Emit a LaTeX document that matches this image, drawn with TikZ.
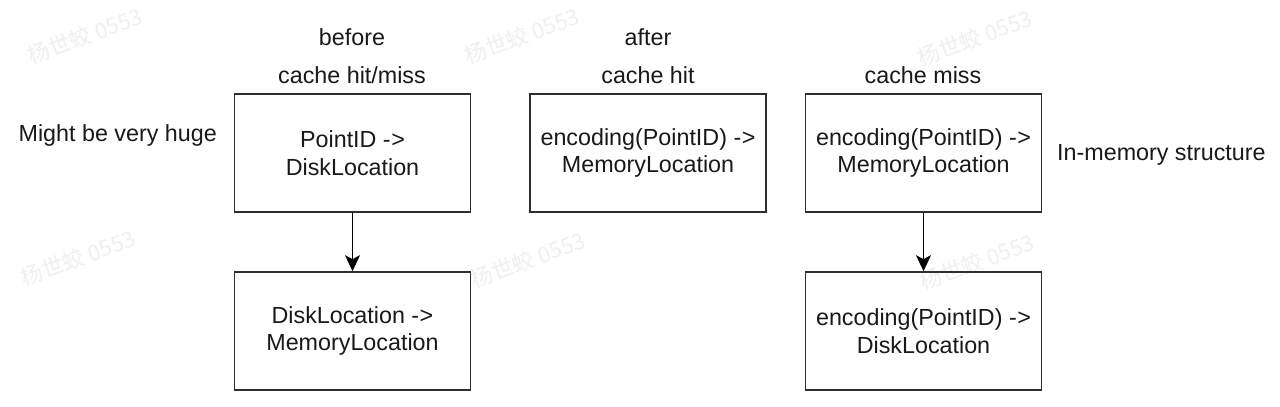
\documentclass[tikz,border=0pt]{standalone}
\usepackage{fontspec}
\setmainfont{Liberation Sans}
\newfontfamily\cjkwm{Noto Sans CJK SC}
\usetikzlibrary{arrows.meta}
\begin{document}
\begin{tikzpicture}[x=1pt,y=-1pt,
  every node/.style={font=\fontsize{23.3}{27.5}\selectfont, text=black!90, inner sep=0pt},
  mapbox/.style={draw=black!82, line width=1.6pt, minimum width=236pt, minimum height=118pt, align=center},
  lbl/.style={align=center},
  wm/.style={font=\cjkwm\fontsize{22}{26}\selectfont, text=black!6, rotate=20},
  link/.style={line width=1.8pt, draw=black, -{Stealth[length=16pt,width=15pt,inset=4pt]}}
]
\useasboundingbox[fill=white] (0,0) rectangle (1280,407);
% watermarks
\node[wm] (w1) at (85,36) {杨世蛟 0553};
\node[wm] (w2) at (522,36) {杨世蛟 0553};
\node[wm] (w3) at (975,38) {杨世蛟 0553};
\node[wm] (w4) at (78,258) {杨世蛟 0553};
\node[wm] (w5) at (528,260) {杨世蛟 0553};
\node[wm] (w6) at (977,262) {杨世蛟 0553};
% labels
\node[lbl] (before) at (352,37) {before};
\node[lbl] (hm) at (352,75) {cache hit/miss};
\node[lbl] (after) at (648,37) {after};
\node[lbl] (hit) at (648,75) {cache hit};
\node[lbl] (miss) at (923,75) {cache miss};
\node[anchor=east] (huge) at (217,135) {Might be very huge};
\node[anchor=west] (inmem) at (1057,155) {In-memory structure};
% boxes
\node[mapbox] (a1) at (352.5,153) {PointID -\kern0.5pt>\\DiskLocation};
\node[mapbox] (a2) at (352.5,331) {DiskLocation -\kern0.5pt>\\MemoryLocation};
\node[mapbox] (b1) at (648,153) {encoding(PointID) -\kern0.5pt>\\MemoryLocation};
\node[mapbox] (c1) at (923.5,153) {encoding(PointID) -\kern0.5pt>\\MemoryLocation};
\node[mapbox] (c2) at (923.5,331) {encoding(PointID) -\kern0.5pt>\\DiskLocation};
% arrows
\draw[link] (a1) -- (a2);
\draw[link] (c1) -- (c2);
\end{tikzpicture}
\end{document}
